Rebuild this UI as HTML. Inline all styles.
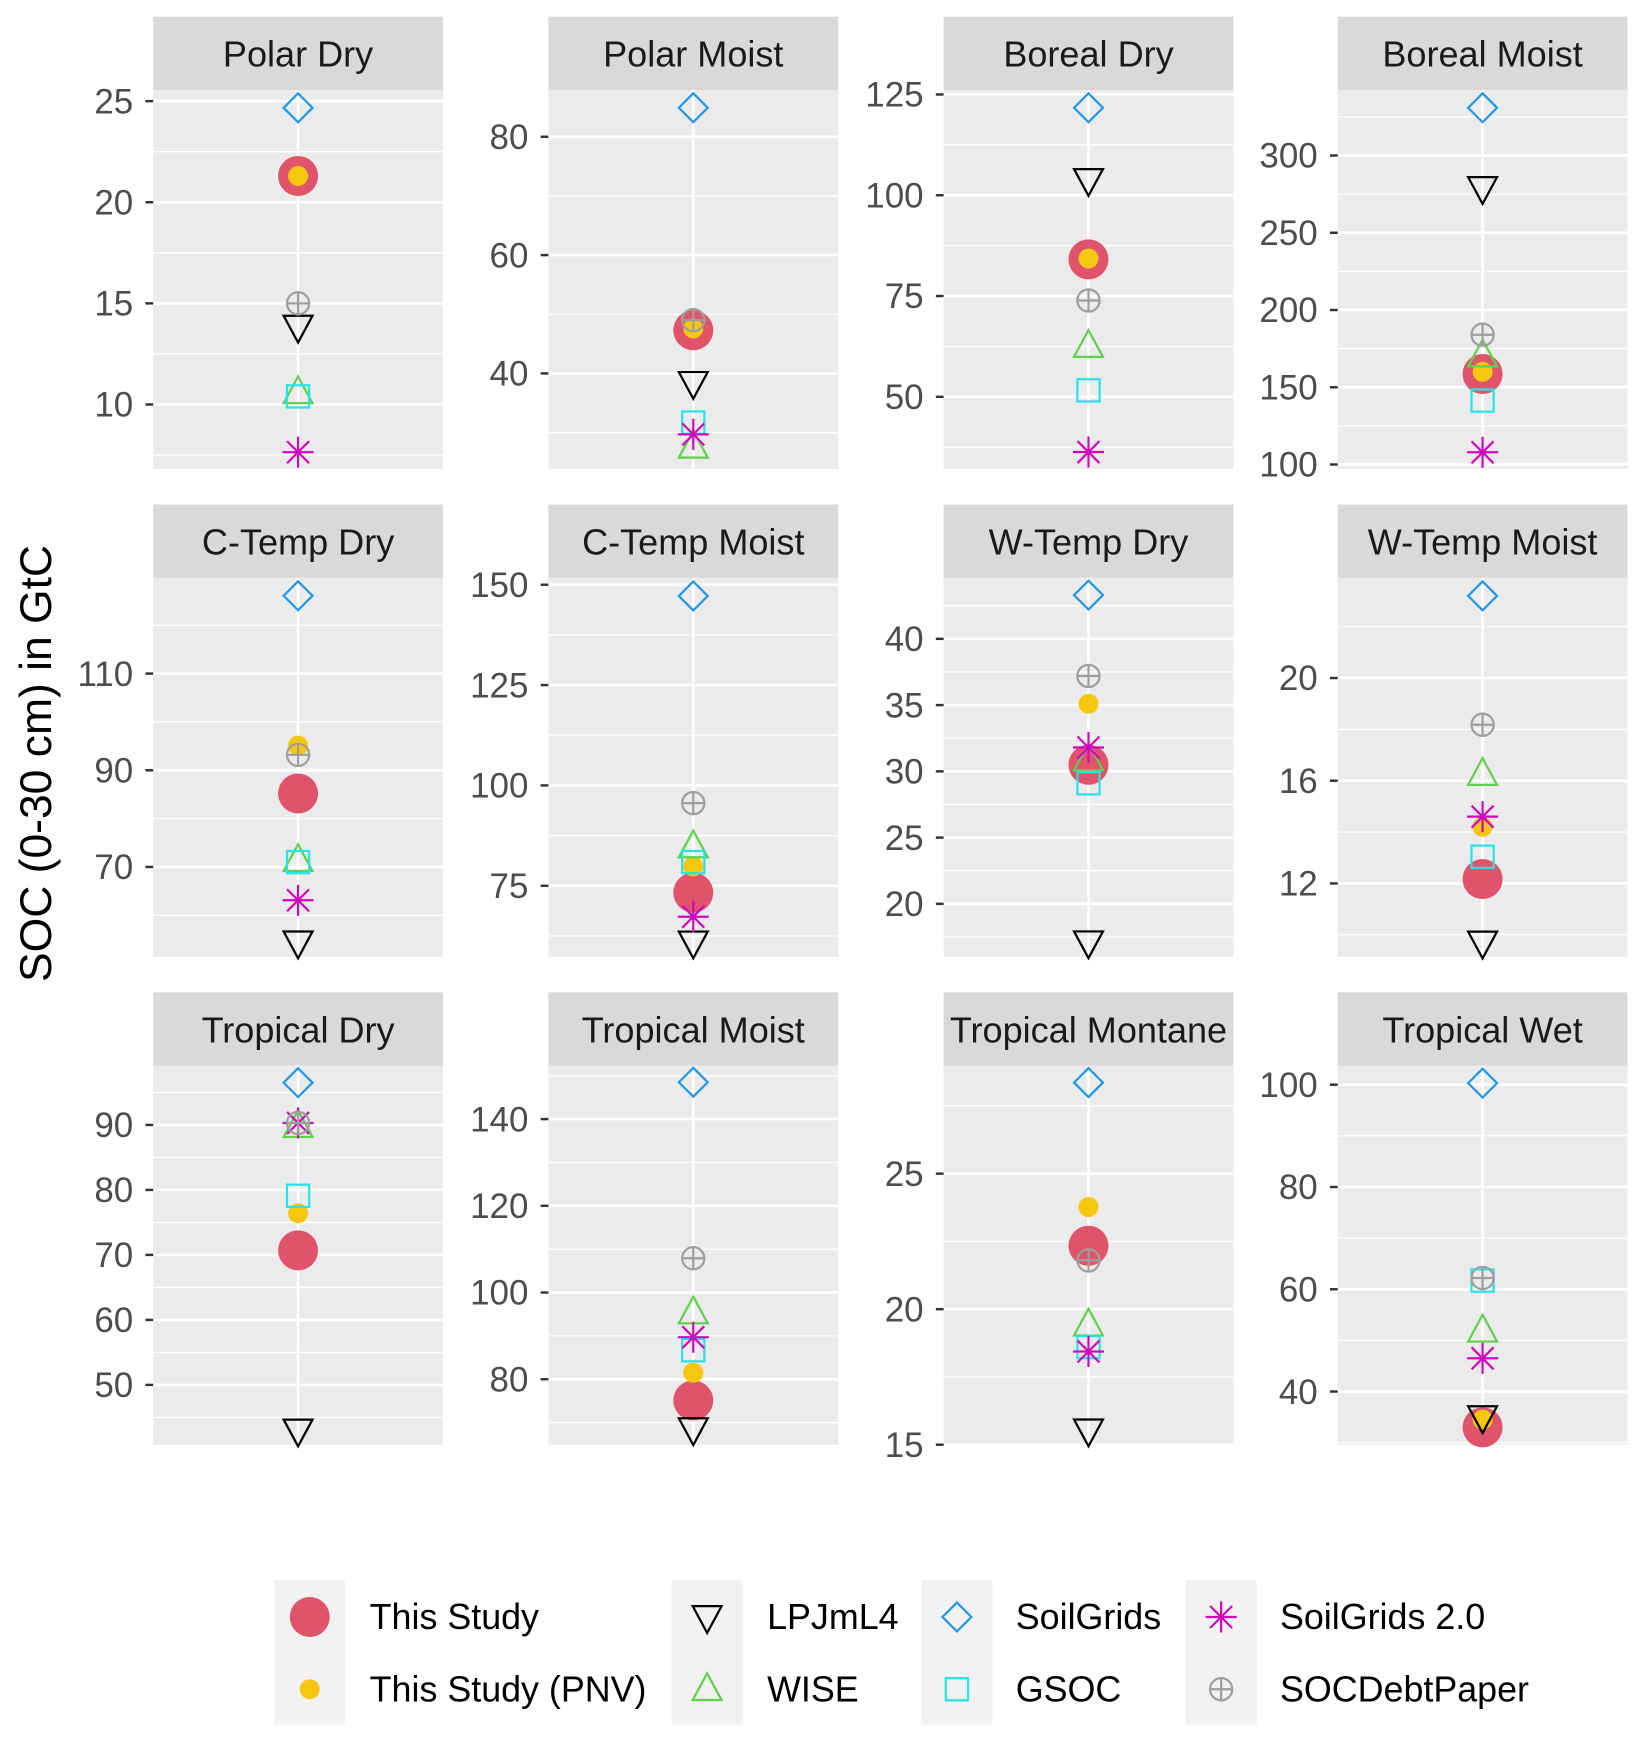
<!DOCTYPE html>
<html><head><meta charset="utf-8">
<style>
html,body{margin:0;padding:0;background:#fff;}
svg{display:block;font-family:"Liberation Sans",Arial,sans-serif;}
</style></head>
<body>
<svg id="chart" width="1643" height="1737" viewBox="0 0 1480 1563" preserveAspectRatio="none" xmlns="http://www.w3.org/2000/svg">
<text x="0" y="0" transform="translate(46,687) rotate(-90)" text-anchor="middle" font-size="40" fill="#000">SOC (0-30 cm) in GtC</text>
<g id="panels"></g>
<g id="legend"></g>
</svg>
<script>
// ---- data ----
const panelNames = ["Polar Dry","Polar Moist","Boreal Dry","Boreal Moist","C-Temp Dry","C-Temp Moist","W-Temp Dry","W-Temp Moist","Tropical Dry","Tropical Moist","Tropical Montane","Tropical Wet"];
const seriesNames = ["This Study","This Study (PNV)","LPJmL4","WISE","SoilGrids","GSOC","SoilGrids 2.0","SOCDebtPaper"];
const thisStudy   = [21.3, 47.3, 84.1, 158.6, 85.2, 73.3, 30.5, 12.17, 70.7, 75.1, 22.34, 33.0];
const thisStudyPNV= [21.3, 47.6, 84.3, 160.0, 95.1, 79.8, 35.1, 14.2, 76.4, 81.5, 23.77, 34.5];
const lpjml4      = [13.85, 38.4, 103.8, 279, 54.4, 60.9, 17.1, 9.7, 43.0, 68.5, 15.53, 35.0];
const wise        = [10.6, 27.6, 62.6, 170.5, 71.4, 84.8, 30.9, 16.26, 89.8, 95.4, 19.43, 51.9];
const soilGrids   = [24.67, 84.9, 121.7, 330.9, 126.1, 147.2, 43.3, 23.2, 96.5, 148.5, 28.36, 100.3];
const gsoc        = [10.4, 31.7, 51.6, 141.4, 71.0, 80.9, 29.1, 13.04, 79.1, 86.7, 18.6, 61.7];
const soilGrids2  = [7.64, 29.7, 36.3, 107.9, 63.1, 67.3, 31.8, 14.6, 90.3, 89.7, 18.44, 46.5];
const socDebt     = [15.0, 49.0, 73.9, 184, 93.2, 95.6, 37.2, 18.18, 90.3, 107.9, 21.8, 62.2];
const yMin = [6.81, 23.85, 32.1, 97.1, 51.4, 57.3, 16.0, 9.14, 40.8, 64.9, 15.0, 29.6];
const yMax = [25.55, 87.9, 126.1, 342.4, 129.8, 151.7, 44.6, 23.9, 99.1, 152.3, 28.98, 103.7];
const tickLabels = [[10,15,20,25],[40,60,80],[50,75,100,125],[100,150,200,250,300],[70,90,110],[75,100,125,150],[20,25,30,35,40],[12,16,20],[50,60,70,80,90],[80,100,120,140],[15,20,25],[40,60,80,100]];
const tickStep = [5,20,25,50,20,25,5,4,10,20,5,20];

const NS="http://www.w3.org/2000/svg";
const colX=[138,494,850,1205], colW=261;
const rowStrip=[15,454,893], stripH=66, panelH=341;
const colors={"This Study":"#DF536B","This Study (PNV)":"#F5C710","LPJmL4":"#000000","WISE":"#61D04F","SoilGrids":"#2297E6","GSOC":"#28E2E5","SoilGrids 2.0":"#CD0BBC","SOCDebtPaper":"#9E9E9E"};
const seriesData=[thisStudy,thisStudyPNV,lpjml4,wise,soilGrids,gsoc,soilGrids2,socDebt];

function el(tag,attrs,parent){const e=document.createElementNS(NS,tag);for(const k in attrs)e.setAttribute(k,attrs[k]);parent.appendChild(e);return e;}

function drawMarker(g,name,cx,cy,scale){
  const c=colors[name], s=scale||1, sw=2;
  let m;
  if(name==="This Study"){m=el("circle",{cx:cx,cy:cy,r:18*s,fill:c},g);}
  else if(name==="This Study (PNV)"){m=el("circle",{cx:cx,cy:cy,r:9*s,fill:c},g);}
  else if(name==="LPJmL4"){const h=13*s;m=el("path",{d:`M${cx-h},${cy-h*0.75}L${cx+h},${cy-h*0.75}L${cx},${cy+h*1.1}Z`,fill:"none",stroke:c,"stroke-width":sw},g);}
  else if(name==="WISE"){const h=13*s;m=el("path",{d:`M${cx-h},${cy+h*0.75}L${cx+h},${cy+h*0.75}L${cx},${cy-h*1.1}Z`,fill:"none",stroke:c,"stroke-width":sw},g);}
  else if(name==="SoilGrids"){const h=13*s;m=el("path",{d:`M${cx},${cy-h}L${cx+h},${cy}L${cx},${cy+h}L${cx-h},${cy}Z`,fill:"none",stroke:c,"stroke-width":sw},g);}
  else if(name==="GSOC"){const h=10*s;m=el("rect",{x:cx-h,y:cy-h,width:2*h,height:2*h,fill:"none",stroke:c,"stroke-width":sw},g);}
  else if(name==="SoilGrids 2.0"){const h=14*s;let d="";for(let a=0;a<4;a++){const t=a*Math.PI/4;const dx=h*Math.cos(t),dy=h*Math.sin(t);d+=`M${cx-dx},${cy-dy}L${cx+dx},${cy+dy}`;}m=el("path",{d:d,fill:"none",stroke:c,"stroke-width":sw},g);}
  else {const r=10*s;m=el("path",{d:`M${cx-r},${cy}L${cx+r},${cy}M${cx},${cy-r}L${cx},${cy+r}`,fill:"none",stroke:c,"stroke-width":sw},g);el("circle",{cx:cx,cy:cy,r:r,fill:"none",stroke:c,"stroke-width":sw},g);}
  return m;
}

const panels=document.getElementById("panels");
panelNames.forEach((pname,i)=>{
  const col=i%4,row=Math.floor(i/4);
  const x0=colX[col], sTop=rowStrip[row], pTop=sTop+stripH, pBot=pTop+panelH;
  const y=v=>pTop+(yMax[i]-v)/(yMax[i]-yMin[i])*panelH;
  const g=el("g",{},panels);
  
  
  const strip=el("rect",{x:x0,y:sTop,width:colW,height:stripH,fill:"#D9D9D9"},g);
  
  
  const st=el("text",{x:x0+colW/2,y:sTop+45,"text-anchor":"middle","font-size":"32.5",fill:"#1A1A1A"},g);
  st.textContent=pname;
  
  
  const bg=el("rect",{x:x0,y:pTop,width:colW,height:panelH,fill:"#EBEBEB"},g);
  
  
  const clip=el("g",{},g);
  const ticks=tickLabels[i], step=tickStep[i];
  for(let k=-2;k<ticks.length+2;k++){
    const v=ticks[0]+(k-0.5)*step;
    if(v>yMin[i]&&v<yMax[i]){el("line",{x1:x0,x2:x0+colW,y1:y(v),y2:y(v),stroke:"#fff","stroke-width":"1.2"},clip);}
  }
  ticks.forEach(t=>{
    const yy=y(t);
    const gl=el("line",{x1:x0,x2:x0+colW,y1:yy,y2:yy,stroke:"#fff","stroke-width":"2.4"},clip);
    
    
    el("line",{x1:x0-7,x2:x0,y1:yy,y2:yy,stroke:"#333","stroke-width":"2.2"},g);
    const tl=el("text",{x:x0-18,y:yy+11,"text-anchor":"end","font-size":"31.5",fill:"#4D4D4D"},g);
    tl.textContent=t;
    
    
  });
  const cx=x0+colW/2;
  el("line",{x1:cx,x2:cx,y1:pTop,y2:pBot,stroke:"#fff","stroke-width":"2.4"},clip);
  const mg=el("g",{},g);
  seriesNames.forEach((sn,j)=>{
    const v=seriesData[j][i];
    const m=drawMarker(mg,sn,cx,y(v),1);
    
    
  });
});

// legend
const legend=document.getElementById("legend");
const legCols=[[247,333],[605,691],[830,915],[1068,1153]];
const legRows=[1455,1520];
legCols.forEach((lc,ci)=>{
  el("rect",{x:lc[0],y:1422,width:64,height:130,fill:"#F2F2F2"},legend);
  for(let r=0;r<2;r++){
    const sn=seriesNames[ci*2+r];
    const g=el("g",{},legend);
    
    
    drawMarker(g,sn,lc[0]+32,legRows[r],1);
    const t=el("text",{x:lc[1],y:legRows[r]+11,"font-size":"32.3",fill:"#000"},g);
    t.textContent=sn;
  }
});
</script>
</body></html>
